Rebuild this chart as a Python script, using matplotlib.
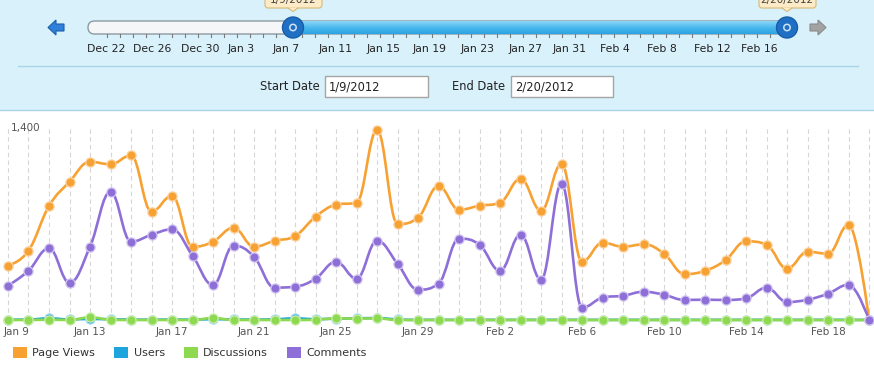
import matplotlib
matplotlib.use('Agg')
import matplotlib.pyplot as plt
import matplotlib.transforms as mtransforms
import numpy as np
import pandas as pd
from matplotlib.path import Path
from matplotlib.patches import PathPatch, FancyBboxPatch, Rectangle, Circle, Polygon, Patch

# ---- data ----
dates = pd.date_range('2012-01-09', '2012-02-20', freq='D')

page_views = [396, 505, 831, 1008, 1154, 1135, 1200, 790, 906, 534,
              571, 673, 534, 578, 612, 753, 841, 855, 1385, 700,
              746, 977, 804, 833, 855, 1030, 797, 1139, 425, 564,
              534, 552, 483, 335, 359, 437, 574, 549, 374, 498,
              483, 695, 0]
users = [2, 3, 12, 4, 8, 5, 3, 2, 3, 3,
         6, 4, 3, 5, 12, 6, 10, 12, 14, 4,
         1, 1, 1, 1, 1, 1, 1, 1, 1, 1,
         1, 1, 1, 1, 1, 1, 1, 1, 1, 1,
         1, 1, 0]
discussions = [0, 0, 2, 0, 20, 2, 0, 0, 0, 0,
               15, 0, 0, 0, 0, 2, 12, 10, 12, 0,
               0, 0, 0, 0, 0, 0, 0, 0, 0, 0,
               0, 0, 0, 0, 0, 0, 0, 0, 0, 0,
               0, 0, 0]
comments = [250, 359, 523, 272, 534, 935, 571, 622, 661, 469,
            255, 542, 461, 236, 243, 301, 425, 301, 578, 410,
            221, 265, 593, 549, 359, 622, 294, 994, 90, 163,
            177, 206, 184, 146, 148, 146, 158, 236, 131, 148,
            192, 257, 0]

series_names = ['Page Views', 'Users', 'Discussions', 'Comments']
series_colors = ['#f8a133', '#1ea5dd', '#8dd94f', '#8e6fd8']
series_edges = ['#fcd3a0', '#a8dcf2', '#cdeeb0', '#d2c5f0']

slider_labels = ['Dec 22', 'Dec 26', 'Dec 30', 'Jan 3', 'Jan 7', 'Jan 11', 'Jan 15',
                 'Jan 19', 'Jan 23', 'Jan 27', 'Jan 31', 'Feb 4', 'Feb 8', 'Feb 12', 'Feb 16']
slider_label_x = [106, 152, 200, 241, 286, 336, 384, 430, 477, 526, 569, 615, 662, 712, 759]
start_text = '1/9/2012'
end_text = '2/20/2012'

W, H = 874, 365
text_col = '#222222'
axis_col = '#555555'


def spline_path(xs, ys, smoothing=1.5):
    # highcharts-like spline through the points
    n = len(xs)
    denom = smoothing + 1
    ctrl = []
    for i in range(n):
        px, py = xs[i], ys[i]
        if i == 0 or i == n - 1:
            ctrl.append(((px, py), (px, py)))
            continue
        lx, ly = xs[i - 1], ys[i - 1]
        nx, ny = xs[i + 1], ys[i + 1]
        lcx = (smoothing * px + lx) / denom
        lcy = (smoothing * py + ly) / denom
        rcx = (smoothing * px + nx) / denom
        rcy = (smoothing * py + ny) / denom
        corr = (rcy - lcy) * (rcx - px) / (rcx - lcx) + py - rcy
        lcy += corr
        rcy += corr
        if lcy > ly and lcy > py:
            lcy = max(ly, py); rcy = 2 * py - lcy
        elif lcy < ly and lcy < py:
            lcy = min(ly, py); rcy = 2 * py - lcy
        if rcy > ny and rcy > py:
            rcy = max(ny, py); lcy = 2 * py - rcy
        elif rcy < ny and rcy < py:
            rcy = min(ny, py); lcy = 2 * py - rcy
        ctrl.append(((lcx, lcy), (rcx, rcy)))
    verts = [(xs[0], ys[0])]
    codes = [Path.MOVETO]
    for i in range(n - 1):
        verts += [ctrl[i][1], ctrl[i + 1][0], (xs[i + 1], ys[i + 1])]
        codes += [Path.CURVE4] * 3
    return Path(verts, codes)


plt.rcParams['font.family'] = ['DejaVu Sans']

fig = plt.figure(figsize=(W / 100, H / 100), dpi=100)

# ---- decoration layer in pixel units ----
deco = fig.add_axes([0, 0, 1, 1], zorder=0)
deco.set_xlim(0, W)
deco.set_ylim(H, 0)
deco.axis('off')

deco.add_patch(Rectangle((0, 0), W, 110, fc='#d9f1fb', ec='none'))
deco.plot([0, W], [109.5, 109.5], color='#a9d3e6', lw=1)
deco.plot([18, 858], [65.5, 65.5], color='#a9d3e6', lw=1)

# slider track
track = FancyBboxPatch((88, 21), 709, 13, boxstyle='round,pad=0,rounding_size=6.5',
                       fc='#f4f6f7', ec='#8d9aa2', lw=1)
deco.add_patch(track)
sel = FancyBboxPatch((288, 21), 504, 13, boxstyle='round,pad=0,rounding_size=6.5',
                     fc='none', ec='none')
deco.add_patch(sel)
grad = np.linspace(0, 1, 30).reshape(-1, 1)
im = deco.imshow(grad, cmap=matplotlib.colors.LinearSegmentedColormap.from_list(
    'sl', ['#8ad6f8', '#4bb9ee', '#2ba4e3']), extent=(288, 792, 34, 21),
    aspect='auto', origin='upper', zorder=2)
im.set_clip_path(sel)
deco.set_xlim(0, W)
deco.set_ylim(H, 0)

for tx in np.arange(106.7, 790, 13):
    deco.plot([tx, tx], [34, 37], color='#7a7a7a', lw=0.8, zorder=1)

for lab, lx in zip(slider_labels, slider_label_x):
    deco.text(lx, 49, lab, ha='center', va='center', fontsize=7.8, color=text_col)

# handles + tooltips (tooltip text is clipped by the top edge, as on screen)
for hx, htxt in [(293, start_text), (787, end_text)]:
    deco.add_patch(FancyBboxPatch((hx - 28, -12), 57, 20,
                                  boxstyle='round,pad=0,rounding_size=3',
                                  fc='#fcebc6', ec='#d7b878', lw=0.8, zorder=3))
    deco.add_patch(Polygon([(hx - 5, 7.5), (hx + 5, 7.5), (hx, 11.5)], closed=True,
                           fc='#fcebc6', ec='none', zorder=4))
    deco.plot([hx - 5, hx, hx + 5], [8, 11.5, 8], color='#d7b878', lw=0.8, zorder=4)
    deco.text(hx, 0, htxt, ha='center', va='center', fontsize=7.5, color='#444444', zorder=5)
    deco.add_patch(Circle((hx, 27.5), 10.5, fc='#1f6fc4', ec='#195da6', lw=1, zorder=5))
    deco.add_patch(Circle((hx, 27.5), 3.2, fc='#1f6fc4', ec='#cfe3f4', lw=1.1, zorder=6))

# arrows
deco.add_patch(Polygon([(48, 27.5), (56, 20), (56, 24), (64, 24), (64, 31), (56, 31), (56, 35)],
                       closed=True, fc='#2f80d8', ec='#1c5fae', lw=0.8))
deco.add_patch(Polygon([(826, 27.5), (818, 20), (818, 24), (810, 24), (810, 31), (818, 31), (818, 35)],
                       closed=True, fc='#a3a3a3', ec='#8a8a8a', lw=0.8))

# date inputs
deco.text(320, 87, 'Start Date', ha='right', va='center', fontsize=8.3, color=text_col)
deco.add_patch(Rectangle((325, 76), 103, 21, fc='white', ec='#a5a5a5', lw=1))
deco.text(329, 87, start_text, ha='left', va='center', fontsize=8.3, color=text_col)
deco.text(505, 87, 'End Date', ha='right', va='center', fontsize=8.3, color=text_col)
deco.add_patch(Rectangle((511, 76), 102, 21, fc='white', ec='#a5a5a5', lw=1))
deco.text(515, 87, end_text, ha='left', va='center', fontsize=8.3, color=text_col)

# ---- chart ----
ax = fig.add_axes([0, (H - 320) / H, 1, 192 / H], zorder=1)
ax.patch.set_alpha(0)
x = np.arange(len(dates))
ax.set_xlim(-0.39, 42.24)
ax.set_ylim(0, 1400)
for s in ax.spines.values():
    s.set_visible(False)

ax.set_xticks(x, minor=True)
ax.set_xticks(x[::4])
ax.set_xticklabels([f"{d:%b} {d.day}" for d in dates[::4]], fontsize=7.5, color=axis_col)
ax.tick_params(axis='x', which='both', length=0, pad=5)
# first label pushed inside the figure, like the original
first = ax.get_xticklabels()[0]
first.set_ha('left')
first.set_transform(first.get_transform() + mtransforms.ScaledTranslation(-4 / 100, 0, fig.dpi_scale_trans))
ax.set_yticks([])
ax.grid(axis='x', which='both', color='#d6d6d6', ls=(0, (4, 3)), lw=0.8)
ax.text(0.012, 1400, '1,400', transform=ax.get_yaxis_transform(), ha='left',
        va='center', fontsize=7.5, color=axis_col)

for vals, name, col, ecol, z in zip([page_views, users, discussions, comments],
                                    series_names, series_colors, series_edges,
                                    [3, 4, 5, 6]):
    ax.add_patch(PathPatch(spline_path(x, np.array(vals, float)), fill=False,
                           ec=col, lw=1.9, zorder=z, clip_on=False))
    ax.plot(x, vals, 'o', ls='none', ms=6.6, mfc=col, mec=ecol, mew=0.9,
            zorder=z + 0.5, clip_on=False)

handles = [Patch(fc=c, ec='none') for c in series_colors]
fig.legend(handles, series_names, loc='center left', ncol=4,
           bbox_to_anchor=(13 / W, 1 - 352.5 / H), frameon=False,
           fontsize=8, handlelength=1.25, handleheight=1.25,
           handletextpad=0.5, columnspacing=1.7, borderpad=0, borderaxespad=0,
           labelcolor='#333333')

fig.savefig('out.png', dpi=100)
